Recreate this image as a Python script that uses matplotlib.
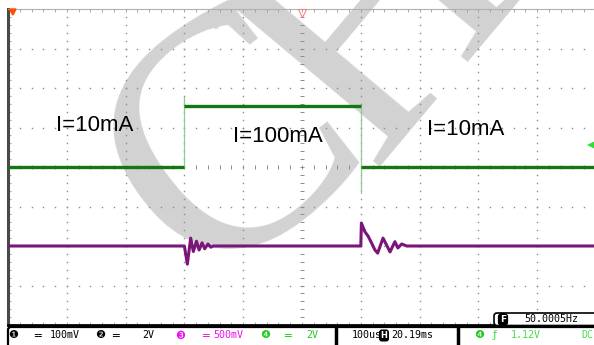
import numpy as np
import matplotlib
matplotlib.use("Agg")
import matplotlib.pyplot as plt
from matplotlib.patches import FancyBboxPatch, Polygon

W, H = 594, 345
X0, Y0, Y1 = 8, 9, 325      # graticule edges in pixels
DIVX = 58.8                  # px per horizontal division
T_DIV = 100.0                # us per division

# CH4 (green, 2 V/div), levels in divisions
ch4_low = 0.0
ch4_high = 1.54
ch4_rise_t = -200.0
ch4_fall_t = 100.0
ch4_overshoot = 1.77
ch4_undershoot = -0.66
ch4_trig = 0.56              # 1.12 V trigger level

# CH3 (purple, 500 mV/div), time in us, level in divisions
ch3_t = [-500, -200, -195, -189.3, -184.8, -179.5, -175, -170, -165.5, -160, -155, -150.8,
         100, 101, 107, 112.8, 118.5, 124, 128.7, 137.8, 149.7, 158, 163, 169.5, 178, 500]
ch3_v = [-2.0, -2.0, -2.46, -1.80, -2.14, -1.88, -2.10, -1.92, -2.07, -1.95, -2.03, -2.0,
         -2.0, -1.42, -1.64, -1.76, -1.93, -2.10, -2.18, -1.80, -2.15, -1.89, -2.05, -1.95, -2.0, -2.0]

labels = ["I=10mA", "I=100mA", "I=10mA"]
label_px = [(56, 131), (233, 142), (427, 135)]

fig = plt.figure(figsize=(W / 100, H / 100), dpi=100, facecolor="white")

def px_axes(z):
    a = fig.add_axes([0, 0, 1, 1], zorder=z)
    a.set_xlim(0, W); a.set_ylim(H, 0); a.axis("off")
    a.patch.set_alpha(0)
    return a

bg = px_axes(0)
ax = fig.add_axes([X0 / W, (H - Y1) / H, (W - X0) / W, (Y1 - Y0) / H], zorder=1)
fg = px_axes(2)

# watermark
wm = dict(fontsize=245, ha="left", va="baseline", family="Liberation Serif",
          color="#d2d2d2", rotation_mode="anchor")
bg.text(198, 288, "C", rotation=38, **wm)
bg.text(370, 167, "H", rotation=50, **wm)

# graticule
xmin = -5 * T_DIV
xmax = xmin + (W - X0) / DIVX * T_DIV
ax.set_xlim(xmin, xmax); ax.set_ylim(-4, 4)
ax.patch.set_alpha(0)
ax.spines["right"].set_visible(False)
ax.spines["left"].set(color="#4a4a4a", lw=2.2)
ax.spines["top"].set(color="#b0b0b0", lw=0.8)
ax.spines["bottom"].set(color="black", lw=2)
ax.set_xticks(np.arange(-500, 500, 20)); ax.set_yticks(np.arange(-4, 4.01, 0.2))
ax.tick_params(direction="in", length=2, width=0.6, color="#999999", top=True,
               labelbottom=False, labelleft=False)

gy = np.arange(-4, 4.001, 0.2)
gx = np.arange(-500, 500, 20.0)
for k in range(-4, 5):
    if k:
        ax.plot(np.full_like(gy, k * T_DIV), gy, ls="none", marker="s", ms=1.0, mew=0, color="#8c8c8c")
for j in range(-3, 4):
    if j:
        ax.plot(gx, np.full_like(gx, j), ls="none", marker="s", ms=1.0, mew=0, color="#8c8c8c")
ax.plot(np.zeros_like(gy), gy, ls="none", marker="_", ms=3.5, mew=0.7, color="#8c8c8c")
ax.plot(gx, np.zeros_like(gx), ls="none", marker="|", ms=3.5, mew=0.7, color="#8c8c8c")

# CH4 trace
g_dark, g_edge = "#127812", "#8fcc8f"
ax.plot([ch4_rise_t] * 2, [ch4_low, ch4_overshoot], color=g_edge, lw=0.9, zorder=3)
ax.plot([ch4_fall_t] * 2, [ch4_high, ch4_undershoot], color=g_edge, lw=0.9, zorder=3)
for a, b, lv in [(xmin, ch4_rise_t, ch4_low), (ch4_rise_t, ch4_fall_t, ch4_high), (ch4_fall_t, xmax, ch4_low)]:
    ax.plot([a, b], [lv, lv], color=g_dark, lw=2.4, solid_capstyle="butt", zorder=4)

# CH3 trace
ax.plot(ch3_t, ch3_v, color="#7a167a", lw=2.2, zorder=4)

# markers
ax.plot([xmax - 5], [ch4_trig], marker="<", ms=6, color="#33dd33", mew=0, clip_on=False, zorder=5)
ax.plot([0], [3.9], marker="v", ms=6, mfc="none", mec="#ff8080", mew=0.8, clip_on=False, zorder=5)
fg.add_patch(Polygon([(9, 9), (16, 9), (13, 15)], closed=True, color="#ff4d00"))

for s, (x, y) in zip(labels, label_px):
    fg.text(x, y, s, fontsize=16, family="Liberation Sans", ha="left", va="baseline")

# status bar
fg.add_patch(FancyBboxPatch((8, 327), 600, 22, boxstyle="round,pad=0,rounding_size=3",
                            fc="white", ec="black", lw=1.6))
for xs in (335.5, 457.5):
    fg.plot([xs, xs], [327, 345], color="black", lw=2.5, solid_capstyle="butt")

mono = dict(family="DejaVu Sans Mono", fontsize=7.2, va="center")
sym = dict(family="DejaVu Sans", fontsize=8, va="center", ha="center")
mag, grn, lgrn = "#ee11ee", "#22cc22", "#44dd44"
ty = 335.5
fg.text(13.5, ty, "❶", color="black", **sym)
fg.text(37, ty, "═", color="black", **sym)
fg.text(50, ty, "100mV", color="black", **mono)
fg.text(100, ty, "❷", color="black", **sym)
fg.text(115, ty, "═", color="black", **sym)
fg.text(142, ty, "2V", color="black", **mono)
fg.text(180, ty, "❸", color=mag, **sym)
fg.text(205, ty, "═", color=mag, **sym)
fg.text(213, ty, "500mV", color=mag, **mono)
fg.text(265, ty, "❹", color=grn, **sym)
fg.text(287, ty, "═", color=grn, **sym)
fg.text(306, ty, "2V", color=grn, **mono)
fg.text(352, ty, "100us", color="black", **mono)
fg.text(384, ty, "H", color="white", family="DejaVu Sans", fontsize=6, va="center", ha="center",
        fontweight="bold", bbox=dict(boxstyle="round,pad=0.1,rounding_size=0.25", fc="black", ec="black"))
fg.text(391, ty, "20.19ms", color="black", **mono)
fg.text(479, ty, "❹", color=grn, **sym)
fg.text(495, ty, "ƒ", color=lgrn, **sym)
fg.text(511, ty, "1.12V", color=lgrn, **mono)
fg.text(581, ty, "DC", color=lgrn, **mono)

# frequency readout box
fg.add_patch(FancyBboxPatch((494, 313), 110, 12.5, boxstyle="round,pad=0,rounding_size=3",
                            fc="white", ec="black", lw=1.2))
fg.text(503, 319.5, "F", color="white", family="DejaVu Sans", fontsize=6.5, va="center", ha="center",
        fontweight="bold", bbox=dict(boxstyle="round,pad=0.15,rounding_size=0.35", fc="black", ec="black"))
fg.text(524, 319.5, "50.0005Hz", color="black", **mono)

fig.savefig("out.png", dpi=100, facecolor="white")
